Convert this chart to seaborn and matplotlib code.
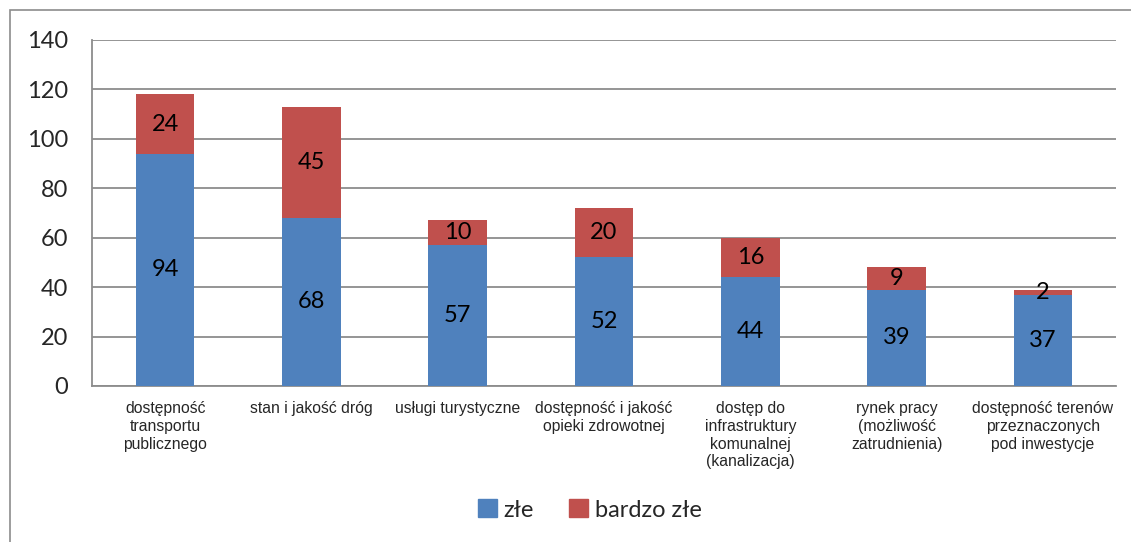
import matplotlib
matplotlib.use("Agg")
import matplotlib.pyplot as plt
import seaborn as sns
import pandas as pd
import numpy as np
from matplotlib.patches import Rectangle

categories = [
    "dostępność\ntransportu\npublicznego",
    "stan i jakość dróg",
    "usługi turystyczne",
    "dostępność i jakość\nopieki zdrowotnej",
    "dostęp do\ninfrastruktury\nkomunalnej\n(kanalizacja)",
    "rynek pracy\n(możliwość\nzatrudnienia)",
    "dostępność terenów\nprzeznaczonych\npod inwestycje",
]
zle = [94, 68, 57, 52, 44, 39, 37]
bardzo_zle = [24, 45, 10, 20, 16, 9, 2]
series_names = ["złe", "bardzo złe"]
yticks = [0, 20, 40, 60, 80, 100, 120, 140]

sns.set_theme(style="white")
plt.rcParams["font.family"] = ["Lato", "DejaVu Sans"]

blue = "#4F81BD"
red = "#C0504D"
grid_c = "#8C8C8C"

fig = plt.figure(figsize=(11.31, 5.42), dpi=100)
ax = fig.add_axes([92/1131, 1-386/542, (1116-92)/1131, (386-40)/542])

df = pd.DataFrame({"cat": categories, "zle": zle, "bz": bardzo_zle})
df["total"] = df["zle"] + df["bz"]

sns.barplot(data=df, x="cat", y="total", color=red, width=0.4, ax=ax,
            saturation=1, linewidth=0, zorder=2)
sns.barplot(data=df, x="cat", y="zle", color=blue, width=0.4, ax=ax,
            saturation=1, linewidth=0, zorder=3)
if ax.get_legend() is not None:
    ax.get_legend().remove()

for i, (a, b) in enumerate(zip(zle, bardzo_zle)):
    ax.text(i, a / 2, str(a), ha="center", va="center", fontsize=17, color="black", zorder=5)
    ax.text(i, a + b / 2, str(b), ha="center", va="center", fontsize=17, color="black", zorder=5)

ax.set_xlim(-0.5, len(categories) - 0.5)
ax.set_ylim(0, 140)
ax.set_yticks(yticks)
ax.set_yticklabels([str(t) for t in yticks], fontsize=17)
ax.yaxis.grid(True, color=grid_c, linewidth=1.3, zorder=0)
ax.set_axisbelow(True)
ax.set_xlabel("")
ax.set_ylabel("")

ax.set_xticks(np.arange(len(categories)))
ax.set_xticklabels(categories, fontsize=11.3, family=["Liberation Sans"], linespacing=1.22, va="top")
ax.tick_params(axis="x", length=0, pad=11)
ax.set_xticks(np.arange(-0.5, len(categories), 1), minor=True)
ax.tick_params(axis="x", which="minor", length=6, color=grid_c, width=1.3, direction="out")
ax.tick_params(axis="y", length=7, color=grid_c, width=1.3, direction="out", pad=10)

for s in ["top", "right"]:
    ax.spines[s].set_visible(False)
for s in ["left", "bottom"]:
    ax.spines[s].set_color(grid_c)
    ax.spines[s].set_linewidth(1.3)

handles = [Rectangle((0, 0), 1, 1, color=blue), Rectangle((0, 0), 1, 1, color=red)]
fig.legend(handles, series_names, loc="center", bbox_to_anchor=(590/1131, 1-510/542),
           ncol=2, frameon=False, fontsize=17, handlelength=0.8, handleheight=0.8,
           handletextpad=0.3, columnspacing=1.5)

fig.patches.append(Rectangle((10/1131, -0.1), 1.2, 1 - 10/542 + 0.1, transform=fig.transFigure,
                             fill=False, edgecolor="#8C8C8C", linewidth=1.2))

fig.savefig("out.png", dpi=100)
